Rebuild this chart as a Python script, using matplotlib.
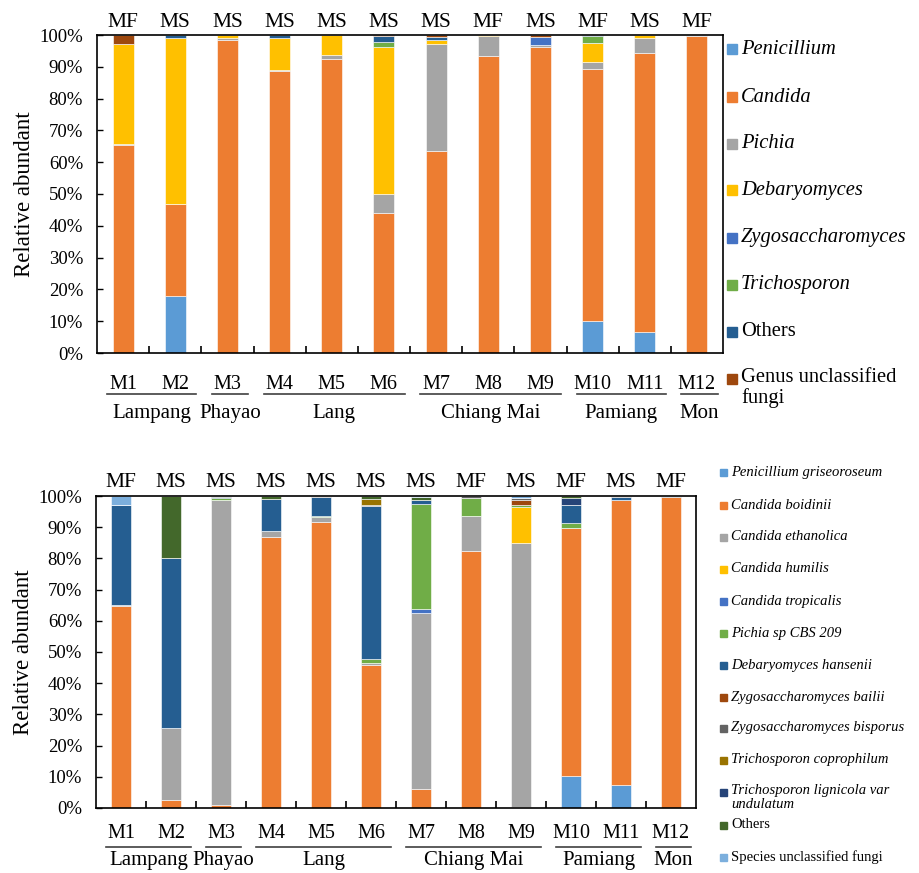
import numpy as np
import matplotlib.pyplot as plt
from matplotlib.patches import Rectangle
from matplotlib.transforms import blended_transform_factory

plt.rcParams['font.family'] = ['Liberation Serif', 'DejaVu Serif']

samples = ['M1', 'M2', 'M3', 'M4', 'M5', 'M6', 'M7', 'M8', 'M9', 'M10', 'M11', 'M12']
types = ['MF', 'MS', 'MS', 'MS', 'MS', 'MS', 'MS', 'MF', 'MS', 'MF', 'MS', 'MF']
# province groups as (name, first index, last index)
groups = [('Lampang', 0, 1), ('Phayao', 2, 2), ('Lang', 3, 5),
          ('Chiang Mai', 6, 8), ('Pamiang', 9, 10), ('Mon', 11, 11)]

# genus level (%)
genus_names = ['Penicillium', 'Candida', 'Pichia', 'Debaryomyces',
               'Zygosaccharomyces', 'Trichosporon', 'Others',
               'Genus unclassified\nfungi']
penicillium = [0, 18.0, 0, 0, 0, 0, 0, 0, 0, 10.2, 6.6, 0]
candida = [65.3, 28.7, 98.4, 88.6, 92.6, 44.0, 63.4, 93.4, 96.2, 79.0, 87.6, 99.7]
pichia = [0.4, 0.2, 0.5, 0.3, 1.0, 5.9, 33.7, 6.3, 0.8, 2.4, 4.9, 0.3]
debaryomyces = [31.6, 52.0, 1.1, 10.3, 6.4, 46.3, 1.4, 0.3, 0, 5.8, 0.9, 0]
zygosaccharomyces = [0, 0, 0, 0, 0, 0, 0, 0, 2.3, 0, 0, 0]
trichosporon = [0, 0, 0, 0, 0, 1.7, 0, 0, 0, 2.3, 0, 0]
others_genus = [0, 1.1, 0, 0.8, 0, 1.7, 1.0, 0, 0, 0.3, 0, 0]
genus_unclassified = [2.7, 0, 0, 0, 0, 0.4, 0.5, 0, 0.7, 0, 0, 0]
genus_data = [penicillium, candida, pichia, debaryomyces, zygosaccharomyces,
              trichosporon, others_genus, genus_unclassified]
genus_italic = [True, True, True, True, True, True, False, False]
genus_colors = ['#5B9BD5', '#ED7D31', '#A5A5A5', '#FFC000', '#4472C4',
                '#70AD47', '#255E91', '#9E480E']

# species level (%)
species_names = ['Penicillium griseoroseum', 'Candida boidinii', 'Candida ethanolica',
                 'Candida humilis', 'Candida tropicalis', 'Pichia sp CBS 209',
                 'Debaryomyces hansenii', 'Zygosaccharomyces bailii',
                 'Zygosaccharomyces bisporus', 'Trichosporon coprophilum',
                 'Trichosporon lignicola var\nundulatum', 'Others',
                 'Species unclassified fungi']
griseoroseum = [0, 0, 0, 0, 0, 0, 0, 0, 0, 10.2, 7.3, 0]
boidinii = [64.8, 2.7, 0.9, 87.0, 91.8, 45.8, 6.0, 82.5, 0.2, 79.7, 91.4, 99.8]
ethanolica = [0.3, 23.1, 97.8, 1.8, 1.4, 0.7, 56.6, 11.1, 84.8, 0, 0, 0]
humilis = [0, 0, 0, 0, 0, 0, 0, 0, 11.5, 0, 0, 0]
tropicalis = [0, 0, 0, 0, 0, 0, 1.2, 0, 0, 0, 0, 0]
pichia_sp = [0, 0, 0.5, 0, 0.4, 1.1, 33.7, 5.9, 0.5, 1.5, 0, 0]
hansenii = [32.0, 54.4, 0.5, 10.1, 6.0, 49.1, 1.3, 0, 0, 5.7, 0.9, 0]
bailii = [0, 0, 0, 0, 0, 0, 0, 0, 1.6, 0, 0, 0]
bisporus = [0, 0, 0.3, 0.2, 0.4, 0.5, 0, 0.5, 0.9, 0, 0.4, 0.2]
coprophilum = [0, 0, 0, 0, 0, 1.8, 0, 0, 0, 0, 0, 0]
lignicola = [0, 0, 0, 0, 0, 0, 0, 0, 0, 2.1, 0, 0]
others_species = [0, 19.8, 0, 0.9, 0, 1.0, 1.0, 0, 0, 0.8, 0, 0]
species_unclassified = [2.9, 0, 0, 0, 0, 0, 0.2, 0, 0.5, 0, 0, 0]
species_data = [griseoroseum, boidinii, ethanolica, humilis, tropicalis, pichia_sp,
                hansenii, bailii, bisporus, coprophilum, lignicola,
                others_species, species_unclassified]
species_italic = [True] * 11 + [False, False]
species_colors = ['#5B9BD5', '#ED7D31', '#A5A5A5', '#FFC000', '#4472C4', '#70AD47',
                  '#255E91', '#9E480E', '#636363', '#997300', '#264478',
                  '#43682B', '#7CAFDD']

fig = plt.figure(figsize=(9.19, 8.73), dpi=100)
W, H = 919.0, 873.0


def draw_panel(rect, data, colors, lab_y, line_y, grp_y, top_y):
    ax = fig.add_axes(rect)
    x = np.arange(len(samples))
    bottom = np.zeros(len(samples))
    for vals, c in zip(data, colors):
        vals = np.array(vals, dtype=float)
        ax.bar(x, vals, 0.4, bottom=bottom, color=c, edgecolor='white', linewidth=0.4)
        bottom += vals
    ax.set_xlim(-0.5, len(samples) - 0.5)
    ax.set_ylim(0, 100)
    ax.set_yticks(np.arange(0, 101, 10))
    ax.set_yticklabels(['%d%%' % v for v in range(0, 101, 10)], fontsize=13.5)
    ax.tick_params(axis='y', direction='in', length=4, width=1, pad=10)
    ax.set_xticks(np.arange(len(samples) - 1) + 0.5)
    ax.set_xticklabels([])
    ax.tick_params(axis='x', direction='in', length=5, width=1.2)
    for s in ax.spines.values():
        s.set_linewidth(1.2)
    ax.set_ylabel('Relative abundant', fontsize=16.5, labelpad=3)

    tr = blended_transform_factory(ax.transData, ax.transAxes)
    for i, (s, t) in enumerate(zip(samples, types)):
        ax.text(i, lab_y, s, transform=tr, ha='center', va='center', fontsize=14.5, clip_on=False)
        ax.text(i, top_y, t, transform=tr, ha='center', va='center', fontsize=15.5, clip_on=False)
    for name, a, b in groups:
        ax.plot([a - 0.3, b + 0.4], [line_y, line_y], transform=tr, color='#404040',
                lw=1.2, clip_on=False)
        ax.text((a + b) / 2 + 0.05, grp_y, name, transform=tr, ha='center', va='center',
                fontsize=15, clip_on=False)
    return ax


def draw_key(names, colors, italic, x0, ys, size, box):
    for name, c, it, y in zip(names, colors, italic, ys):
        fig.patches.append(Rectangle((x0 / W, 1 - (y + box / 2) / H), box / W, box / H,
                                     transform=fig.transFigure, color=c))
        ty = y - size * 0.75 if '\n' in name else y
        fig.text((x0 + box + 4) / W, 1 - ty / H, name, fontsize=size,
                 style='italic' if it else 'normal', va='top' if '\n' in name else 'center',
                 linespacing=1.05)


# genus panel
draw_panel([97 / W, 1 - 353 / H, 626 / W, 318 / H], genus_data, genus_colors,
           -0.10, -0.13, -0.19, 1.04)
genus_y = [49, 97, 144, 190, 238, 285, 332, 379]
draw_key(genus_names, genus_colors, genus_italic, 727, genus_y, 14.8, 10)

# species panel
draw_panel([96 / W, 1 - 808 / H, 600 / W, 312 / H], species_data, species_colors,
           -0.082, -0.125, -0.168, 1.042)
species_y = [473, 505, 537, 569, 601, 633, 665, 697, 728, 760, 792, 825, 857]
draw_key(species_names, species_colors, species_italic, 720, species_y, 10.5, 7)

fig.savefig('out.png', dpi=100)
